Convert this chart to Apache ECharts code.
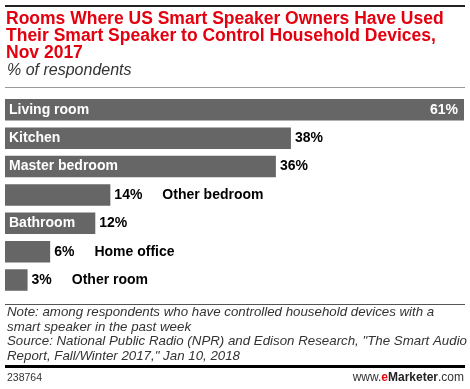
<!DOCTYPE html>
<html><head><meta charset="utf-8">
<script src="https://cdn.jsdelivr.net/npm/echarts@6/dist/echarts.min.js"></script>
<style>html,body{margin:0;padding:0;background:#fff}#c{width:470px;height:389px}</style>
</head><body><div id="c"></div>
<script>
const categories = ['Living room','Kitchen','Master bedroom','Other bedroom','Bathroom','Home office','Other room'];
const values = [61,38,36,14,12,6,3];
const nameInside = [true,true,true,false,true,false,false];
const valueInside = [true,false,false,false,false,false,false];

const F = 'Liberation Sans, Arial, sans-serif';
const chart = echarts.init(document.getElementById('c'));
chart.setOption({
  animation:false,
  grid:{left:5,top:95.6,width:459,height:198.6,containLabel:false},
  xAxis:{type:'value',min:0,max:61,show:false},
  yAxis:{type:'category',data:categories,inverse:true,show:false},
  series:[
    {type:'bar',barWidth:21.5,itemStyle:{color:'#666666'},
     data:values.map((v,i)=>({value:v,label:{show:nameInside[i]}})),
     label:{position:'insideLeft',distance:4,formatter:'{b}',color:'#fff',fontWeight:'bold',fontSize:14,fontFamily:F}},
    {type:'bar',barWidth:21.5,barGap:'-100%',itemStyle:{color:'rgba(0,0,0,0)'},silent:true,
     data:values.map((v,i)=>({value:v,label:valueInside[i]?{position:'insideRight',color:'#fff',distance:6}:{}})),
     label:{show:true,position:'right',distance:4,color:'#000',fontWeight:'bold',fontSize:14,fontFamily:F,
       formatter:p=>{const i=p.dataIndex;return nameInside[i]?p.value+'%':'{v|'+p.value+'%}{n|'+p.name+'}';},
       rich:{v:{fontWeight:'bold',fontSize:14,fontFamily:F,color:'#000'},n:{fontWeight:'bold',fontSize:14,fontFamily:F,color:'#000',padding:[0,0,0,20]}}}}
  ],
  graphic:[
    {type:'rect',shape:{x:5,y:5,width:460,height:2},style:{fill:'#222'}},
    {type:'text',left:6,top:10,style:{text:'Rooms Where US Smart Speaker Owners Have Used\nTheir Smart Speaker to Control Household Devices,\nNov 2017',fill:'#e3000f',font:'bold 17.5px '+F,lineHeight:17.3}},
    {type:'text',left:7,top:63,style:{text:'% of respondents',fill:'#333',font:'italic 16px '+F}},
    {type:'rect',shape:{x:5,y:87,width:460,height:1},style:{fill:'#999'}},
    {type:'rect',shape:{x:5,y:304,width:460,height:1},style:{fill:'#555'}},
    {type:'text',left:7,top:305,style:{text:'Note: among respondents who have controlled household devices with a\nsmart speaker in the past week\nSource: National Public Radio (NPR) and Edison Research, "The Smart Audio\nReport, Fall/Winter 2017," Jan 10, 2018',fill:'#333',font:'italic 13.3px '+F,lineHeight:14.7}},
    {type:'rect',shape:{x:5,y:365,width:460,height:3},style:{fill:'#000'}},
    {type:'text',left:7,top:373,style:{text:'238764',fill:'#333',font:'10.5px '+F}},
    {type:'text',right:6,top:372,style:{text:'{a|www.}{e|e}{m|Marketer}{a|.com}',rich:{a:{fill:'#333',font:'12px '+F},e:{fill:'#e3000f',font:'bold 12px '+F},m:{fill:'#222',font:'bold 12px '+F}}}}
  ]
});
</script></body></html>
